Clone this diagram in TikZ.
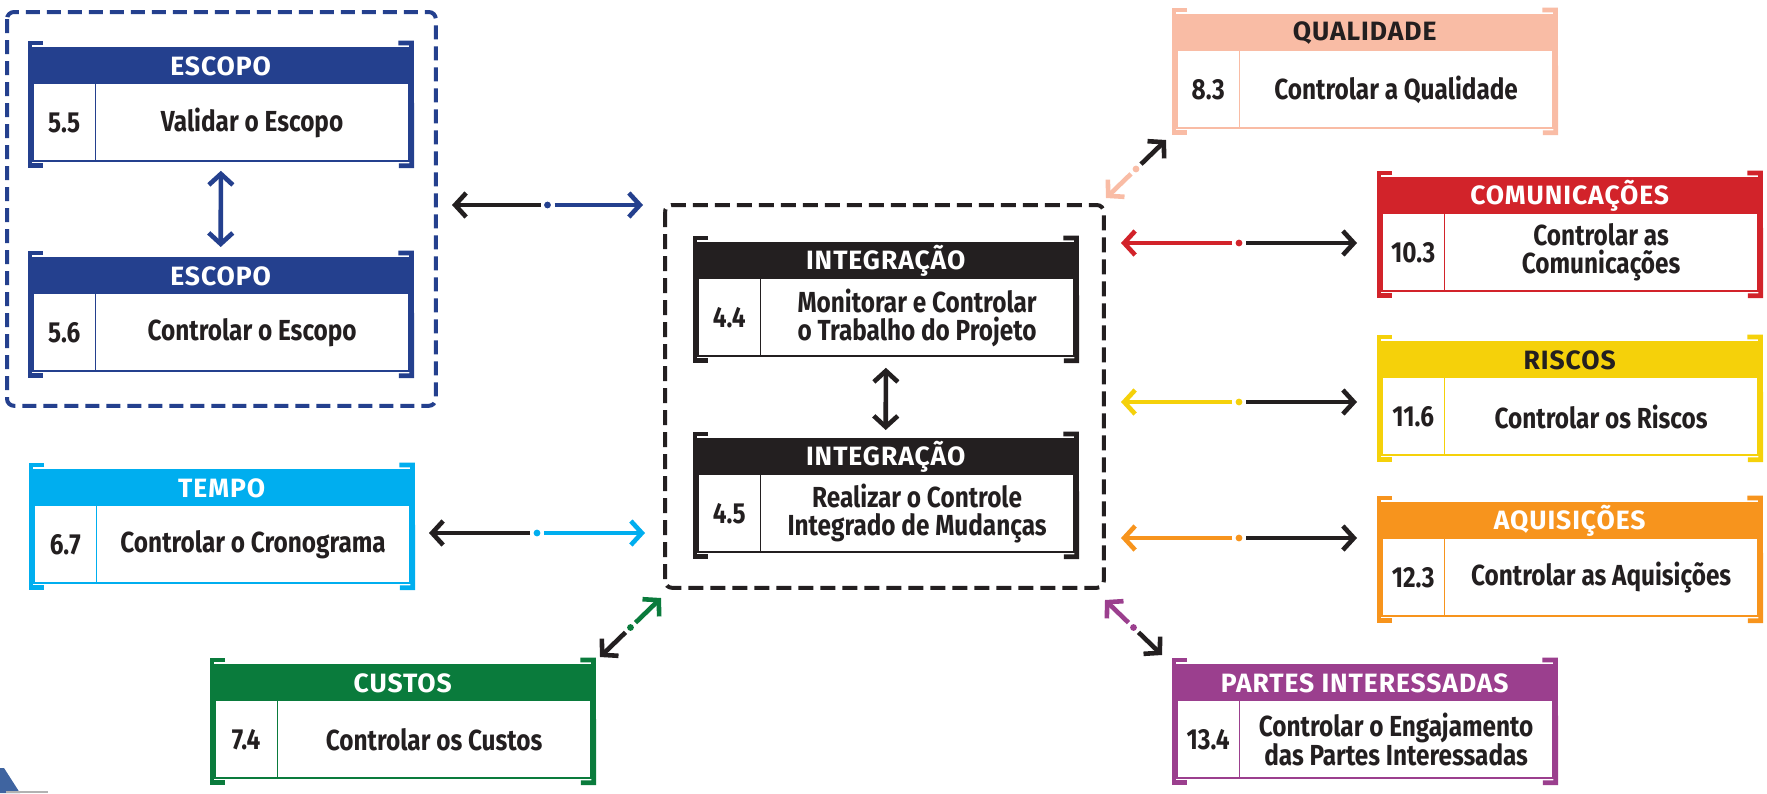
\documentclass[tikz,border=0pt]{standalone}
\usepackage{fontspec}
\setmainfont{Fira Sans}[FakeStretch=0.84]
\newfontfamily\hdrfam{Fira Sans}[LetterSpace=3.5]
\usetikzlibrary{arrows.meta,calc}
\definecolor{cEsc}{HTML}{24408E}
\definecolor{cInt}{HTML}{231F20}
\definecolor{cTem}{HTML}{00AEEF}
\definecolor{cCus}{HTML}{0A7B3C}
\definecolor{cQua}{HTML}{F9BCA5}
\definecolor{cCom}{HTML}{D2232A}
\definecolor{cRis}{HTML}{F5D10A}
\definecolor{cAqu}{HTML}{F7941D}
\definecolor{cPar}{HTML}{9B3F8E}
\definecolor{cTxt}{HTML}{231F20}
\definecolor{cTri}{HTML}{3F64A0}
\newcommand\hdrfont{\hdrfam\bfseries\fontsize{26.5}{26.5}\selectfont}
\newcommand\bodyfont{\bfseries\fontsize{29}{28}\selectfont}
\newcommand{\kbox}[8]{%
  \node[hdr, fill=#4, text=#5] (#1-h) at (#2,#3) {#6};
  \node[numc] (#1-n) at (#1-h.south west) {#7};
  \node[txtc] (#1-t) at (#1-n.north east) {#8};
  \draw[#4, line width=1.6pt] (#1-h.north west) rectangle (#1-t.south east);
  \draw[#4, line width=1.6pt] (#1-n.north east) -- (#1-n.south east);
  \draw[brk, #4] ($(#1-h.north west)+(10,-5)$) -- ($(#1-h.north west)+(-3,-5)$) -- ($(#1-n.south west)+(-3,5)$) -- ($(#1-n.south west)+(10,5)$);
  \draw[brk, #4] ($(#1-h.north east)+(-10,-5)$) -- ($(#1-h.north east)+(3,-5)$) -- ($(#1-t.south east)+(3,5)$) -- ($(#1-t.south east)+(-10,5)$);
}
\newcommand{\conn}[4]{% #1 colour, #2 tip toward integration, #3 tip toward the area box, #4 mid name
  \coordinate (#4) at ($(#2)!0.5!(#3)$);
  \draw[arr, #1] ($(#4)!7pt!(#2)$) -- (#2);
  \draw[arr, cTxt] ($(#4)!7pt!(#3)$) -- (#3);
  \fill[#1] (#4) circle (3.4pt);
}
\begin{document}
\begin{tikzpicture}[x=1pt, y=-1pt,
  hdr/.style={anchor=north west, minimum width=375pt, minimum height=36pt, inner sep=0pt, font=\hdrfont},
  numc/.style={anchor=north west, minimum width=62pt, minimum height=76pt, inner sep=0pt, font=\bodyfont, text=cTxt},
  txtc/.style={anchor=north west, minimum width=313pt, minimum height=76pt, inner sep=0pt, font=\bodyfont, text=cTxt, align=center},
  brk/.style={line width=4.8pt, line join=miter},
  arr/.style={line width=4.6pt, -{Straight Barb[length=11pt,width=24pt]}},
  varr/.style={line width=4.6pt, {Straight Barb[length=11pt,width=24pt]}-{Straight Barb[length=11pt,width=24pt]}},
  dbox/.style={line width=4pt, dash pattern=on 14pt off 7pt, rounded corners=7pt}]
\useasboundingbox (0,0) rectangle (1767,793);
\fill[white] (0,0) rectangle (1767,793);

% knowledge area boxes
\kbox{esc1}{33}{48}{cEsc}{white}{ESCOPO}{5.5}{Validar o Escopo}
\kbox{esc2}{33}{258}{cEsc}{white}{ESCOPO}{5.6}{Controlar o Escopo}
\kbox{tem}{34}{470}{cTem}{white}{TEMPO}{6.7}{Controlar o Cronograma}
\kbox{cus}{215}{665}{cCus}{white}{CUSTOS}{7.4}{Controlar os Custos}
\kbox{int1}{698}{243}{cInt}{white}{INTEGRAÇÃO}{4.4}{Monitorar e Controlar\\o Trabalho do Projeto}
\kbox{int2}{698}{439}{cInt}{white}{INTEGRAÇÃO}{4.5}{Realizar o Controle\\Integrado de Mudanças}
\kbox{qua}{1177}{15}{cQua}{cTxt}{QUALIDADE}{8.3}{Controlar a Qualidade}
\kbox{com}{1382}{178}{cCom}{white}{COMUNICAÇÕES}{10.3}{Controlar as\\Comunicações}
\kbox{ris}{1382}{342}{cRis}{cTxt}{RISCOS}{11.6}{Controlar os Riscos}
\kbox{aqu}{1382}{503}{cAqu}{white}{AQUISIÇÕES}{12.3}{Controlar as Aquisições}
\kbox{par}{1177}{665}{cPar}{white}{PARTES INTERESSADAS}{13.4}{Controlar o Engajamento\\das Partes Interessadas}

% dashed groups
\draw[dbox, cEsc] ($(esc1-h.north west)+(-26,-36)$) rectangle ($(esc2-t.south east)+(27,35)$);
\draw[dbox, cInt, dash pattern=on 15pt off 7pt] ($(int1-h.north west)+(-33,-38)$) rectangle ($(int2-t.south east)+(30,36)$);

% arrows inside groups
\draw[varr, cEsc] ($(esc1-n.south west)!0.5!(esc1-t.south east)+(0,10)$) -- ($(esc2-h.north west)!0.5!(esc2-h.north east)+(0,-11)$);
\draw[varr, cInt] ($(int1-n.south west)!0.5!(int1-t.south east)+(0,12)$) -- ($(int2-h.north west)!0.5!(int2-h.north east)+(0,-9)$);

% connector end points
\coordinate (escI) at (643,205); \coordinate (escK) at (452,205);
\coordinate (temI) at (645,533); \coordinate (temK) at (429,533);
\coordinate (cusI) at (661,598); \coordinate (cusK) at (600,657);
\coordinate (quaI) at (1106,198); \coordinate (quaK) at (1166,140);
\coordinate (comI) at (1121,243); \coordinate (comK) at (1357,243);
\coordinate (risI) at (1121,402); \coordinate (risK) at (1357,402);
\coordinate (aquI) at (1121,538); \coordinate (aquK) at (1357,538);
\coordinate (parI) at (1105,600); \coordinate (parK) at (1162,655);

\conn{cEsc}{escI}{escK}{escM}
\conn{cTem}{temI}{temK}{temM}
\conn{cCus}{cusI}{cusK}{cusM}
\conn{cQua}{quaI}{quaK}{quaM}
\conn{cCom}{comI}{comK}{comM}
\conn{cRis}{risI}{risK}{risM}
\conn{cAqu}{aquI}{aquK}{aquM}
\conn{cPar}{parI}{parK}{parM}

% corner fragment
\fill[cTri] (0,768) -- (4,768) -- (20,793) -- (0,793) -- cycle;
\draw[gray!60, line width=1.5pt] (6,792) -- (48,792);
\end{tikzpicture}
\end{document}
